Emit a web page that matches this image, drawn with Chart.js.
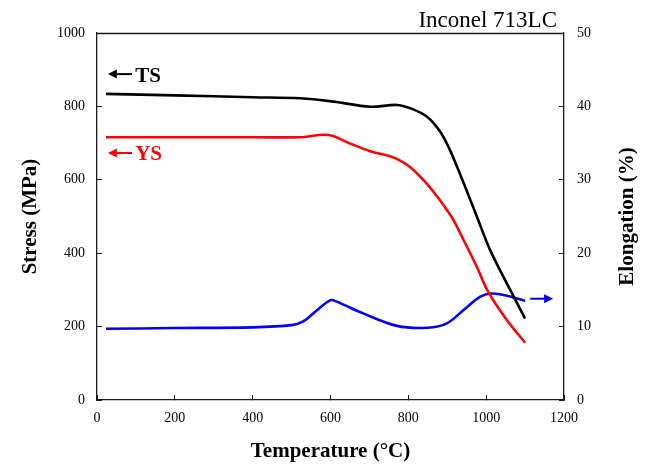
<!DOCTYPE html>
<html>
<head>
<meta charset="utf-8">
<script src="https://cdn.jsdelivr.net/npm/chart.js@4.4.1/dist/chart.umd.min.js"></script>
<style>
  html, body { margin: 0; padding: 0; background: #fff; }
  #c { display: block; }
</style>
</head>
<body>
<canvas id="c" width="651" height="466"></canvas>
<script>
// ---- Data ----
const tsTemps = [23, 200, 400, 522, 608, 702, 770, 805, 848, 882, 907, 925, 946, 976, 1010, 1053, 1100];
const tsValues = [834, 830, 825, 822, 813, 799, 804, 795, 772, 731, 681, 636, 581, 500, 409, 318, 222];

const ysTemps = [23, 200, 400, 522, 595, 650, 702, 753, 779, 805, 839, 873, 899, 916, 942, 976, 1006, 1053, 1100];
const ysValues = [716, 716, 716, 716, 722, 699, 678, 664, 652, 634, 599, 556, 518, 490, 436, 363, 293, 218, 156];

const elTemps = [23, 200, 400, 500, 530, 560, 600, 616, 684, 771, 850, 899, 942, 985, 1015, 1053, 1100];
const elValues = [9.7, 9.8, 9.9, 10.2, 10.7, 12.0, 13.6, 13.4, 11.8, 10.1, 9.85, 10.45, 12.26, 14.07, 14.5, 14.2, 13.5];

const xTicks = [0, 200, 400, 600, 800, 1000, 1200];
const yTicks = [0, 200, 400, 600, 800, 1000];
const y2Ticks = [0, 10, 20, 30, 40, 50];

const titleText = 'Inconel 713LC';
const xTitle = 'Temperature (°C)';
const yTitle = 'Stress (MPa)';
const y2Title = 'Elongation (%)';

// ---- Helpers ----
const pts = (xs, ys) => xs.map((x, i) => ({ x: x, y: ys[i] }));
const FAMILY = '"Liberation Serif", "Times New Roman", serif';
const AXIS = '#1a1a1a';

const annotPlugin = {
  id: 'annot',
  afterDraw(chart) {
    const ctx = chart.ctx;
    const a = chart.chartArea;
    const xs = chart.scales.x, ys = chart.scales.y, y2 = chart.scales.y2;
    ctx.save();
    // top frame line
    ctx.strokeStyle = AXIS;
    ctx.lineWidth = 1.3;
    ctx.beginPath();
    ctx.moveTo(a.left, a.top + 0.5);
    ctx.lineTo(a.right, a.top + 0.5);
    ctx.stroke();

    // title text
    ctx.fillStyle = '#000';
    ctx.font = '23px ' + FAMILY;
    ctx.textAlign = 'right';
    ctx.textBaseline = 'alphabetic';
    ctx.fillText(titleText, a.right - 7, a.top - 6);

    // right axis title (reads bottom-to-top)
    ctx.save();
    ctx.translate(y2.right - 17, (a.top + a.bottom) / 2);
    ctx.rotate(-Math.PI / 2);
    ctx.font = 'bold 21px ' + FAMILY;
    ctx.textAlign = 'center';
    ctx.textBaseline = 'middle';
    ctx.fillText(y2Title, 0, 0);
    ctx.restore();

    function arrow(x1, x2, y, color, dir) {
      ctx.strokeStyle = color;
      ctx.fillStyle = color;
      ctx.lineWidth = 2;
      ctx.beginPath();
      if (dir < 0) {
        ctx.moveTo(x2, y); ctx.lineTo(x1 + 7, y);
      } else {
        ctx.moveTo(x1, y); ctx.lineTo(x2 - 7, y);
      }
      ctx.stroke();
      ctx.beginPath();
      if (dir < 0) {
        ctx.moveTo(x1, y); ctx.lineTo(x1 + 9, y - 4.5); ctx.lineTo(x1 + 9, y + 4.5);
      } else {
        ctx.moveTo(x2, y); ctx.lineTo(x2 - 9, y - 4.5); ctx.lineTo(x2 - 9, y + 4.5);
      }
      ctx.closePath();
      ctx.fill();
    }

    // TS label
    const ax1 = xs.getPixelForValue(28), ax2 = xs.getPixelForValue(90);
    const tsY = ys.getPixelForValue(888);
    arrow(ax1, ax2, tsY, '#000', -1);
    ctx.fillStyle = '#000';
    ctx.font = 'bold 21px ' + FAMILY;
    ctx.textAlign = 'left';
    ctx.textBaseline = 'middle';
    ctx.fillText('TS', xs.getPixelForValue(98), tsY + 2);

    // YS label
    const ysY = ys.getPixelForValue(673);
    arrow(ax1, ax2, ysY, '#ff0000', -1);
    ctx.fillStyle = '#ff0000';
    ctx.fillText('YS', xs.getPixelForValue(98), ysY + 2);

    // elongation arrow
    const elY = y2.getPixelForValue(13.8);
    arrow(xs.getPixelForValue(1113), xs.getPixelForValue(1172), elY, '#0000ff', 1);
    ctx.restore();
  }
};

const lineDs = (label, data, color, axis) => ({
  label: label,
  data: data,
  yAxisID: axis,
  showLine: true,
  borderColor: color,
  backgroundColor: color,
  borderWidth: 2.6,
  pointRadius: 0,
  pointHoverRadius: 0,
  tension: 0.35,
  fill: false
});

const tickFont = { family: FAMILY, size: 14 };
const titleFont = { family: FAMILY, size: 21, weight: 'bold' };
const plain = v => String(v);

new Chart(document.getElementById('c'), {
  type: 'scatter',
  data: {
    datasets: [
      lineDs('TS', pts(tsTemps, tsValues), '#000000', 'y'),
      lineDs('YS', pts(ysTemps, ysValues), '#ff0000', 'y'),
      lineDs('Elongation', pts(elTemps, elValues), '#0000ff', 'y2')
    ]
  },
  options: {
    responsive: false,
    animation: false,
    events: [],
    layout: { padding: { left: 10, right: 6, top: 33, bottom: 2 } },
    plugins: { legend: { display: false }, tooltip: { enabled: false } },
    scales: {
      x: {
        type: 'linear', position: 'bottom', min: 0, max: 1200,
        afterBuildTicks: s => { s.ticks = xTicks.map(v => ({ value: v })); },
        ticks: { font: tickFont, color: '#000', padding: 15, maxRotation: 0, callback: plain },
        grid: { drawOnChartArea: false, tickLength: -5, color: AXIS, lineWidth: 1 },
        border: { color: AXIS, width: 1.3 },
        title: { display: true, text: xTitle, font: titleFont, color: '#000', padding: 0 },
        afterFit: s => { s.height = 64; }
      },
      y: {
        type: 'linear', position: 'left', min: 0, max: 1000,
        afterBuildTicks: s => { s.ticks = yTicks.map(v => ({ value: v })); },
        ticks: { font: tickFont, color: '#000', padding: 17, callback: plain },
        grid: { drawOnChartArea: false, tickLength: -5, color: AXIS, lineWidth: 1 },
        border: { color: AXIS, width: 1.3 },
        title: { display: true, text: yTitle, font: titleFont, color: '#000', padding: { top: 8, bottom: 0 } },
        afterFit: s => { s.width = 87; }
      },
      y2: {
        type: 'linear', position: 'right', min: 0, max: 50,
        afterBuildTicks: s => { s.ticks = y2Ticks.map(v => ({ value: v })); },
        ticks: { font: tickFont, color: '#000', padding: 18, callback: plain },
        grid: { drawOnChartArea: false, tickLength: -5, color: AXIS, lineWidth: 1 },
        border: { color: AXIS, width: 1.3 },
        title: { display: false },
        afterFit: s => { s.width = 81; }
      }
    }
  },
  plugins: [annotPlugin]
});
</script>
</body>
</html>
